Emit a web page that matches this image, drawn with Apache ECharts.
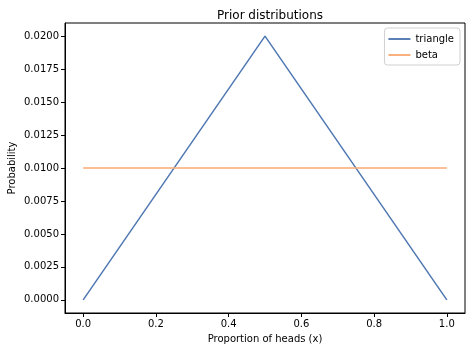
<!DOCTYPE html>
<html>
<head>
<meta charset="utf-8">
<script src="https://cdn.jsdelivr.net/npm/echarts@6/dist/echarts.min.js"></script>
<style>
  html, body { margin: 0; padding: 0; background: #fff; }
  #chart { width: 472px; height: 352px; }
</style>
</head>
<body>
<div id="chart"></div>
<script>
// values
var triangleX = [0.0, 0.5, 1.0];
var triangleY = [0.0, 0.02, 0.0];
var betaX = [0.0, 1.0];
var betaY = [0.01, 0.01];
var xTicks = [0.0, 0.2, 0.4, 0.6, 0.8, 1.0];
var yTicks = [0.0, 0.0025, 0.005, 0.0075, 0.01, 0.0125, 0.015, 0.0175, 0.02];

function pairs(xs, ys) {
    var res = [];
    for (var i = 0; i < xs.length; i++) {
        res.push([xs[i], ys[i]]);
    }
    return res;
}

var myChart = echarts.init(document.getElementById('chart'));
var font = 'DejaVu Sans';

var option = {
    animation: false,
    backgroundColor: '#fff',
    title: {
        text: 'Prior distributions',
        left: 265,
        top: 5,
        textAlign: 'center',
        textStyle: { fontFamily: font, fontSize: 12, fontWeight: 'normal', color: '#000' }
    },
    legend: {
        orient: 'vertical',
        right: 12,
        top: 28,
        itemWidth: 22,
        itemHeight: 2,
        itemGap: 6,
        icon: 'rect',
        padding: [6, 6, 5, 4],
        borderColor: '#d0d0d0',
        borderWidth: 1,
        borderRadius: 3,
        backgroundColor: 'rgba(255,255,255,0.8)',
        textStyle: { fontFamily: font, fontSize: 10, color: '#000' },
        data: ['triangle', 'beta']
    },
    grid: {
        left: 65,
        right: 7,
        top: 23,
        bottom: 39,
        outerBoundsMode: 'none',
        containLabel: false,
        show: true,
        borderColor: '#000',
        borderWidth: 1
    },
    xAxis: {
        type: 'value',
        min: -0.05,
        max: 1.05,
        name: 'Proportion of heads (x)',
        nameLocation: 'middle',
        nameGap: 21,
        nameMoveOverlap: false,
        nameTextStyle: { fontFamily: font, fontSize: 10, color: '#000' },
        axisLine: { show: true, onZero: false, lineStyle: { color: '#000', width: 1 } },
        axisTick: { show: true, inside: false, length: 4, customValues: xTicks, lineStyle: { color: '#000' } },
        axisLabel: {
            customValues: xTicks,
            fontFamily: font, fontSize: 10, color: '#000', margin: 6,
            formatter: function (v) { return v.toFixed(1); }
        },
        splitLine: { show: false }
    },
    yAxis: {
        type: 'value',
        min: -0.001,
        max: 0.021,
        name: 'Probability',
        nameLocation: 'middle',
        nameGap: 48,
        nameMoveOverlap: false,
        nameTextStyle: { fontFamily: font, fontSize: 10, color: '#000' },
        axisLine: { show: true, onZero: false, lineStyle: { color: '#000', width: 1 } },
        axisTick: { show: true, inside: false, length: 4, customValues: yTicks, lineStyle: { color: '#000' } },
        axisLabel: {
            customValues: yTicks,
            fontFamily: font, fontSize: 10, color: '#000', margin: 6,
            formatter: function (v) { return v.toFixed(4); }
        },
        splitLine: { show: false }
    },
    series: [
        {
            name: 'triangle',
            type: 'line',
            data: pairs(triangleX, triangleY),
            showSymbol: false,
            symbol: 'none',
            color: '#5a7fb5',
            lineStyle: { width: 1.5, color: '#5078b2' }
        },
        {
            name: 'beta',
            type: 'line',
            data: pairs(betaX, betaY),
            showSymbol: false,
            symbol: 'none',
            color: '#fab07e',
            lineStyle: { width: 1.5, color: '#f8aa74' }
        }
    ]
};
myChart.setOption(option);
</script>
</body>
</html>
